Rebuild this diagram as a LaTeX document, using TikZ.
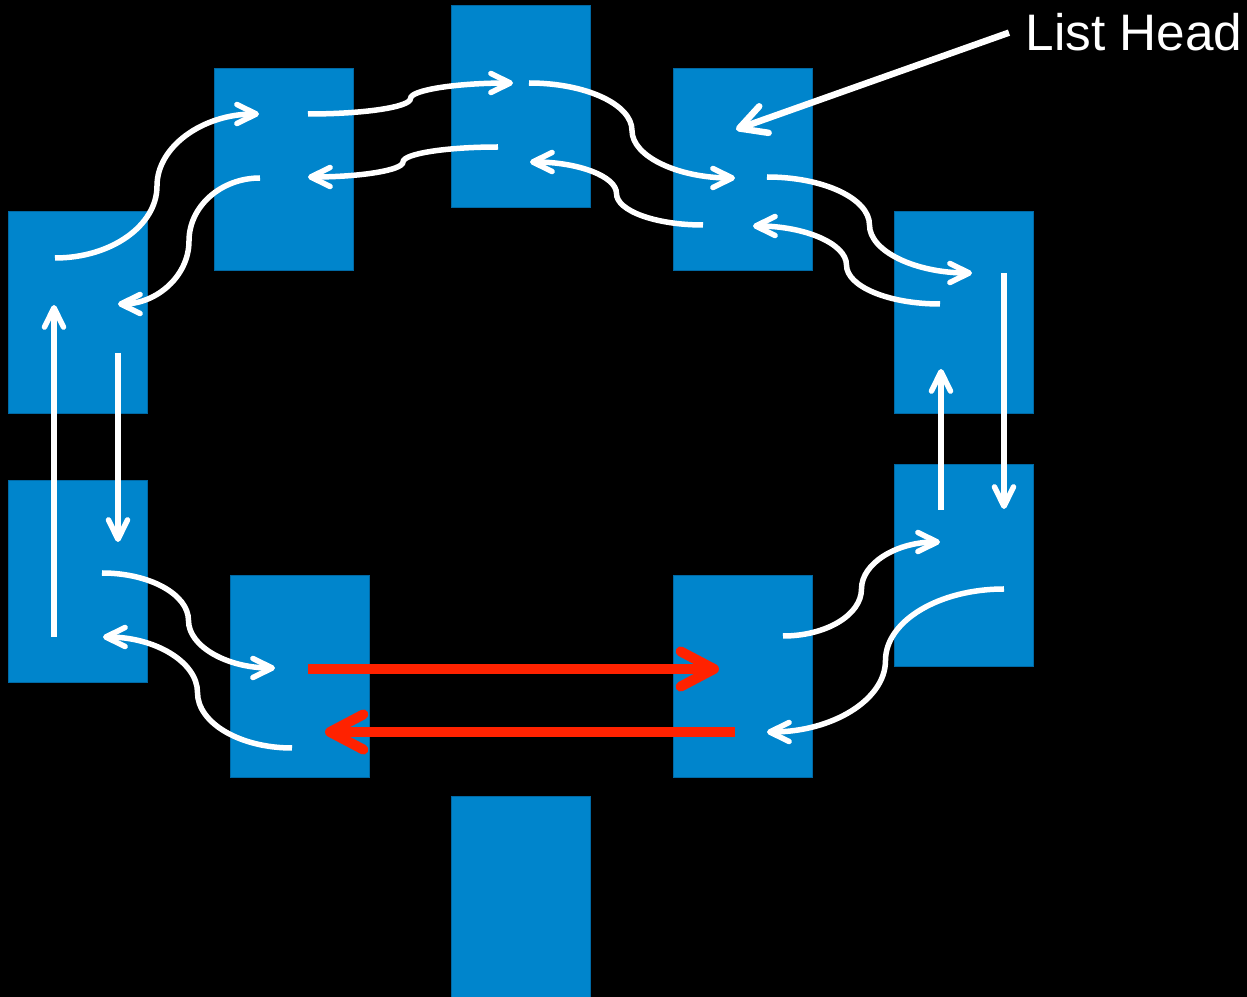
\documentclass[tikz,border=0pt]{standalone}
\usepackage{fontspec}
\setmainfont{Liberation Sans}
\usetikzlibrary{calc,arrows.meta}

\definecolor{cellblue}{RGB}{0,133,204}
\definecolor{celledge}{RGB}{0,105,165}
\definecolor{ptrred}{RGB}{255,34,0}

\begin{document}
\begin{tikzpicture}[x=0.01cm,y=-0.01cm,
    box/.style={rectangle,fill=cellblue,draw=celledge,line width=0.01cm,inner sep=0pt,minimum width=1.39cm,minimum height=2.02cm},
    ptr/.style={white,line width=0.055cm,-{Straight Barb[length=5.5pt,width=5.4pt,round]}},
    redptr/.style={ptrred,line width=0.1cm,-{Straight Barb[length=9.5pt,width=10pt,round]}},
    headptr/.style={white,line width=0.065cm,-{Straight Barb[length=7.5pt,width=8pt,round]}},
    scurve/.style={to path={let \p1=(\tikztostart), \p2=(\tikztotarget), \p3=($(\p1)!0.5!(\p2)$) in
        .. controls ($(\p1)!0.55!(\x3,\y1)$) and ($(\p3)!0.55!(\x3,\y1)$) .. (\p3)
        .. controls ($(\p3)!0.55!(\x3,\y2)$) and ($(\p2)!0.55!(\x3,\y2)$) .. (\p2)}}]
  \fill[black] (0,0) rectangle (1247,997);
  \useasboundingbox (0,0) rectangle (1247,997);
  \clip (0,0) rectangle (1247,997);

  % list cells
  \node[box] (t) at (521,106.5) {};
  \node[box] (ul) at (284,169.5) {};
  \node[box] (ur) at (743,169.5) {};
  \node[box] (l1) at (78,312.5) {};
  \node[box] (r1) at (964,312.5) {};
  \node[box] (l2) at (78,581.5) {};
  \node[box] (r2) at (964,565.5) {};
  \node[box] (bl) at (300,676.5) {};
  \node[box] (br) at (743,676.5) {};
  \node[box] (b) at (521,897.5) {};

  \node[anchor=base west,inner xsep=0.16cm,inner ysep=0pt,text=white,font=\fontsize{14.6}{18}\selectfont] (head) at (1009,51) {List Head};
  \draw[headptr] (head.west) -- ([shift={(-7,-40)}]ur.center);

  % upper half
  \draw[ptr] ([shift={(-23,-54.5)}]l1.center) to[scurve] ([shift={(-25,-55.5)}]ul.center);
  \draw[ptr] ([shift={(-24,8.5)}]ul.center) to[scurve] ([shift={(40,-8.5)}]l1.center);
  \draw[ptr] ([shift={(24,-55.5)}]ul.center) to[scurve] ([shift={(-8,-23.5)}]t.center);
  \draw[ptr] ([shift={(-23,40.5)}]t.center) to[scurve] ([shift={(24,7.5)}]ul.center);
  \draw[ptr] ([shift={(8,-23.5)}]t.center) to[scurve] ([shift={(-8,8.5)}]ur.center);
  \draw[ptr] ([shift={(-40,55.5)}]ur.center) to[scurve] ([shift={(9,55.5)}]t.center);
  \draw[ptr] ([shift={(24,7.5)}]ur.center) to[scurve] ([shift={(8,-39.5)}]r1.center);
  \draw[ptr] ([shift={(-24,-8.5)}]r1.center) to[scurve] ([shift={(10,56.5)}]ur.center);

  % sides
  \draw[ptr] ([shift={(40,-39.5)}]r1.center) -- ([shift={(40,-56.5)}]r2.center);
  \draw[ptr] ([shift={(-23,-55.5)}]r2.center) -- ([shift={(-23,56.5)}]r1.center);
  \draw[ptr] ([shift={(-24,55.5)}]l2.center) -- ([shift={(-24,-7.5)}]l1.center);
  \draw[ptr] ([shift={(40,40.5)}]l1.center) -- ([shift={(40,-39.5)}]l2.center);

  % lower half
  \draw[ptr] ([shift={(40,23.5)}]r2.center) to[scurve] ([shift={(24,55.5)}]br.center);
  \draw[ptr] ([shift={(40,-40.5)}]br.center) to[scurve] ([shift={(-24,-23.5)}]r2.center);
  \draw[ptr] ([shift={(-8,71.5)}]bl.center) to[scurve] ([shift={(25,55.5)}]l2.center);
  \draw[ptr] ([shift={(24,-8.5)}]l2.center) to[scurve] ([shift={(-25,-8.5)}]bl.center);

  \draw[redptr] ([shift={(8,-7.5)}]bl.center) -- ([shift={(-24,-7.5)}]br.center);
  \draw[redptr] ([shift={(-8,55.5)}]br.center) -- ([shift={(25,55.5)}]bl.center);
\end{tikzpicture}
\end{document}
